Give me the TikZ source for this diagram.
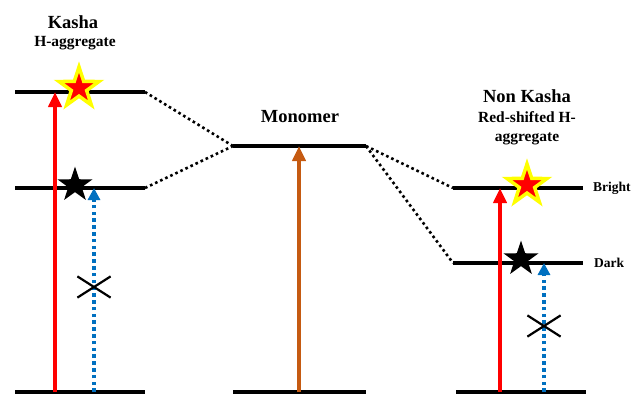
\documentclass[tikz,border=0pt]{standalone}
\usepackage{fontspec}
\setmainfont{Liberation Serif}
\usetikzlibrary{arrows.meta,shapes.geometric,shapes.misc}
\definecolor{excite}{HTML}{FF0000}
\definecolor{glow}{HTML}{FFFF00}
\definecolor{hidden}{HTML}{0070C0}
\definecolor{mono}{HTML}{C55A11}
\tikzset{
  level/.style={draw=black, line width=3.6pt},
  link/.style={draw=black, line width=2.6pt, dash pattern=on 2.6pt off 3pt},
  up/.style={line width=4pt, -{Triangle[width=13pt,length=15pt]}},
  nope/.style={draw=hidden, line width=3.4pt, dash pattern=on 3.6pt off 3.2pt, -{Triangle[width=12pt,length=12pt]}},
  hot/.style={star, star points=5, star point ratio=2.6, minimum size=42pt, inner sep=0pt, fill=excite, draw=glow, line width=3.5pt},
  cold/.style={star, star points=5, star point ratio=2.6, minimum size=37pt, inner sep=0pt, fill=black},
  ban/.style={cross out, draw=black, line width=2.2pt, minimum width=31pt, minimum height=19pt, inner sep=0pt},
  head/.style={font=\bfseries\fontsize{18.5}{20}\selectfont},
  sub/.style={font=\bfseries\fontsize{15.5}{19}\selectfont, align=center},
  tag/.style={font=\bfseries\fontsize{13.5}{15}\selectfont, anchor=west, inner sep=0pt},
}
\begin{document}
\begin{tikzpicture}[x=1pt,y=-1pt]
  \useasboundingbox (0,0) rectangle (632,394);
  \foreach \N/\xa/\xb/\y in {KT/15/145/92, KM/15/145/188, KG/15/145/392,
                             MX/233/366/146, MG/233/366/392,
                             NB/453/583/188, ND/453/583/263, NG/456/586/392}{
    \coordinate (\N l) at (\xa,\y);
    \coordinate (\N r) at (\xb,\y);
    \draw[level] (\N l) -- (\N r);
  }
  \draw[link] (KTr) -- (MXl);
  \draw[link] (KMr) -- (MXl);
  \draw[link] (MXr) -- (NBl);
  \draw[link] (MXr) -- (NDl);
  \coordinate (a1) at (55,392);
  \coordinate (b1) at (94,392);
  \coordinate (m1) at (299,392);
  \coordinate (a2) at (500,392);
  \coordinate (b2) at (544,392);
  \draw[up,draw=excite] (a1) -- (a1 |- KTl);
  \draw[nope] (b1) -- (b1 |- KMl);
  \draw[up,draw=mono] (m1) -- (m1 |- MXl);
  \draw[up,draw=excite] (a2) -- (a2 |- NBl);
  \draw[nope] (b2) -- (b2 |- NDl);
  \node[ban] (x1) at (94,287) {};
  \node[ban] (x2) at (544,326) {};
  \node[hot] (s1) at (79,88) {};
  \node[cold] (s2) at (75,185) {};
  \node[hot] (s3) at (527,185) {};
  \node[cold] (s4) at (521,259) {};
  \node[head] (kasha) at (73,22) {Kasha};
  \node[sub] (kashasub) at (75,43) {H-aggregate};
  \node[head] (monomer) at (300,117) {Monomer};
  \node[head] (nonkasha) at (527,96) {Non Kasha};
  \node[sub] (nonkashasub) at (527,128) {Red-shifted H-\\aggregate};
  \node[tag] (bright) at (593,188) {Bright};
  \node[tag] (dark) at (594,263) {Dark};
\end{tikzpicture}
\end{document}
